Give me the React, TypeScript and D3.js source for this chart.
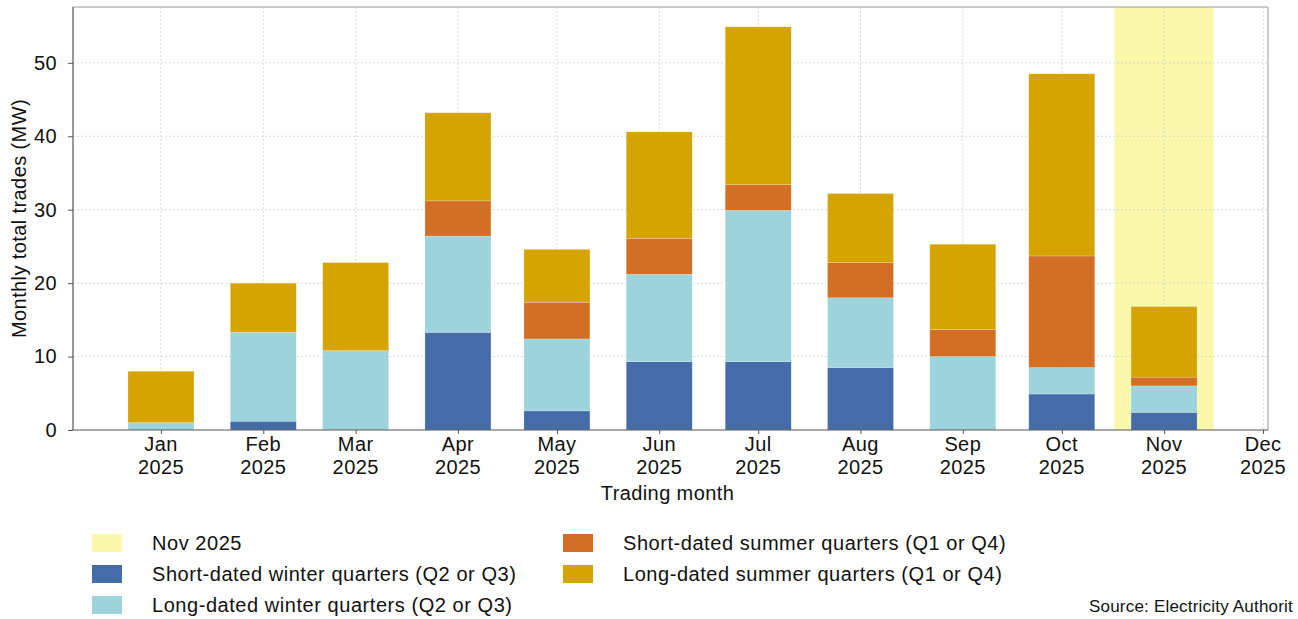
import React from "react";
import * as d3 from "d3";

// trading months (first day of each month)
const months = ["2025-01-01", "2025-02-01", "2025-03-01", "2025-04-01", "2025-05-01", "2025-06-01", "2025-07-01", "2025-08-01", "2025-09-01", "2025-10-01", "2025-11-01"];
const shortWinter = [0, 1.2, 0, 13.3, 2.6, 9.3, 9.3, 8.5, 0, 4.9, 2.4];
const longWinter = [1.0, 12.1, 10.8, 13.1, 9.8, 11.9, 20.6, 9.5, 10.0, 3.6, 3.6];
const shortSummer = [0, 0, 0, 4.8, 5.0, 4.9, 3.5, 4.8, 3.7, 15.2, 1.2];
const longSummer = [7.0, 6.7, 12.0, 12.0, 7.2, 14.5, 21.5, 9.4, 11.6, 24.8, 9.6];
const yTicks = [0, 10, 20, 30, 40, 50];
const highlightMonth = "2025-11-01";

const seriesKeys = ["shortWinter", "longWinter", "shortSummer", "longSummer"];
const seriesNames = [
  "Short-dated winter quarters (Q2 or Q3)",
  "Long-dated winter quarters (Q2 or Q3)",
  "Short-dated summer quarters (Q1 or Q4)",
  "Long-dated summer quarters (Q1 or Q4)",
];
const seriesColors = ["#436ca8", "#9cd3dc", "#d26f24", "#d6a400"];
const highlightColor = "#faf8aa";

const W = 1298;
const H = 619;
const margin = { left: 73, top: 7, right: 30, bottom: 189 };
const FONT = "'Liberation Sans', Arial, sans-serif";
const FS = 20;
const LS = 0.4;

const App = () => {
  const svgRef = React.useRef(null);

  React.useEffect(() => {
    const svgEl = d3.select(svgRef.current);
    svgEl.selectAll("*").remove();

    const x0 = margin.left;
    const x1 = W - margin.right;
    const y0 = H - margin.bottom;
    const y1 = margin.top;

    const xScale = d3.scaleUtc()
      .domain([new Date(Date.UTC(2024, 11, 5, 8)), new Date(Date.UTC(2025, 11, 2, 12))])
      .range([x0, x1]);
    const yScale = d3.scaleLinear().domain([0, 57.6]).range([y0, y1]);

    const day = 24 * 3600 * 1000;
    const rows = months.map((m, i) => ({
      date: new Date(m + "T00:00:00Z"),
      shortWinter: shortWinter[i],
      longWinter: longWinter[i],
      shortSummer: shortSummer[i],
      longSummer: longSummer[i],
    }));
    const stacked = d3.stack<any>().keys(seriesKeys)(rows);

    // highlighted month band
    const hl = new Date(highlightMonth + "T00:00:00Z").getTime();
    svgEl.append("rect")
      .attr("x", xScale(new Date(hl - 15 * day)))
      .attr("y", y1)
      .attr("width", xScale(new Date(hl + 15 * day)) - xScale(new Date(hl - 15 * day)))
      .attr("height", y0 - y1)
      .attr("fill", highlightColor);

    // grid lines
    const monthTicks = d3.utcMonth.range(new Date(Date.UTC(2025, 0, 1)), new Date(Date.UTC(2025, 11, 2)));
    svgEl.append("g").selectAll("line")
      .data(monthTicks)
      .enter().append("line")
      .attr("x1", (d) => xScale(d)).attr("x2", (d) => xScale(d))
      .attr("y1", y1).attr("y2", y0)
      .attr("stroke", "#d9d9d9").attr("stroke-width", 1)
      .attr("stroke-dasharray", "2,2");
    svgEl.append("g").selectAll("line")
      .data(yTicks.slice(1))
      .enter().append("line")
      .attr("x1", x0).attr("x2", x1)
      .attr("y1", (d) => yScale(d)).attr("y2", (d) => yScale(d))
      .attr("stroke", "#d9d9d9").attr("stroke-width", 1)
      .attr("stroke-dasharray", "2,2");

    // bars
    svgEl.append("g").selectAll("g")
      .data(stacked)
      .enter().append("g")
      .attr("fill", (d, i) => seriesColors[i])
      .selectAll("rect")
      .data((d) => d.filter((s) => s[1] - s[0] > 0))
      .enter().append("rect")
      .attr("x", (d) => xScale(new Date(d.data.date.getTime() - 10 * day)))
      .attr("width", (d) => xScale(new Date(d.data.date.getTime() + 10 * day)) - xScale(new Date(d.data.date.getTime() - 10 * day)))
      .attr("y", (d) => yScale(d[1]))
      .attr("height", (d) => yScale(d[0]) - yScale(d[1]))
      .attr("stroke", "rgba(255,255,255,0.35)")
      .attr("stroke-width", 0.6);

    // frame
    svgEl.append("path")
      .attr("d", `M${x0},${y1}H${x1}V${y0}`)
      .attr("fill", "none").attr("stroke", "#9a9a9a").attr("stroke-width", 1);
    svgEl.append("path")
      .attr("d", `M${x0},${y1}V${y0}H${x1}`)
      .attr("fill", "none").attr("stroke", "#555").attr("stroke-width", 1.2);

    // y axis
    const yAxis = d3.axisLeft(yScale).tickValues(yTicks).tickSize(5).tickPadding(11);
    const yG = svgEl.append("g").attr("transform", `translate(${x0},0)`).call(yAxis);
    yG.select(".domain").remove();
    yG.selectAll("line").attr("stroke", "#555");
    yG.selectAll("text").attr("font-size", FS).attr("font-family", FONT).attr("fill", "#111")
      .attr("letter-spacing", LS);

    // x axis
    const xAxis = d3.axisBottom(xScale).tickValues(monthTicks).tickSize(4).tickFormat(() => "");
    const xG = svgEl.append("g").attr("transform", `translate(0,${y0})`).call(xAxis);
    xG.select(".domain").remove();
    xG.selectAll("line").attr("stroke", "#555");
    const fmtM = d3.utcFormat("%b");
    const fmtY = d3.utcFormat("%Y");
    const lbl = svgEl.append("g").selectAll("text")
      .data(monthTicks)
      .enter().append("text")
      .attr("x", (d) => xScale(d))
      .attr("text-anchor", "middle")
      .attr("font-size", FS).attr("font-family", FONT).attr("fill", "#111")
      .attr("letter-spacing", LS);
    lbl.append("tspan").attr("x", (d) => xScale(d)).attr("y", y0 + 21).text((d) => fmtM(d));
    lbl.append("tspan").attr("x", (d) => xScale(d)).attr("y", y0 + 44).text((d) => fmtY(d));

    // axis titles
    svgEl.append("text")
      .attr("x", (x0 + x1) / 2 - 3).attr("y", y0 + 70)
      .attr("text-anchor", "middle")
      .attr("font-size", FS).attr("font-family", FONT).attr("fill", "#111")
      .attr("letter-spacing", LS)
      .text("Trading month");
    svgEl.append("text")
      .attr("transform", `translate(26,${(y0 + y1) / 2}) rotate(-90)`)
      .attr("text-anchor", "middle")
      .attr("font-size", FS).attr("font-family", FONT).attr("fill", "#111")
      .attr("letter-spacing", LS)
      .text("Monthly total trades (MW)");

    // legend
    const legendItems = [
      { name: "Nov 2025", color: highlightColor, col: 0, row: 0 },
      { name: seriesNames[0], color: seriesColors[0], col: 0, row: 1 },
      { name: seriesNames[1], color: seriesColors[1], col: 0, row: 2 },
      { name: seriesNames[2], color: seriesColors[2], col: 1, row: 0 },
      { name: seriesNames[3], color: seriesColors[3], col: 1, row: 1 },
    ];
    const lg = svgEl.append("g").selectAll("g")
      .data(legendItems)
      .enter().append("g")
      .attr("transform", (d) => `translate(${d.col === 0 ? 92 : 563},${543 + d.row * 31})`);
    lg.append("rect")
      .attr("x", 0).attr("y", -9).attr("width", 30).attr("height", 18)
      .attr("fill", (d) => d.color);
    lg.append("text")
      .attr("x", 60).attr("y", 7)
      .attr("font-size", FS).attr("font-family", FONT).attr("fill", "#111")
      .attr("letter-spacing", 0.55)
      .text((d) => d.name);

    svgEl.append("text")
      .attr("x", 1089).attr("y", 612)
      .attr("font-size", 17).attr("font-family", FONT).attr("fill", "#111")
      .attr("letter-spacing", 0.2)
      .text("Source: Electricity Authorit");
  }, []);

  return (
    <svg
      ref={svgRef}
      width={W}
      height={H}
      style={{ position: "absolute", left: 0, top: 0, background: "#fff" }}
    />
  );
};

export default App;
